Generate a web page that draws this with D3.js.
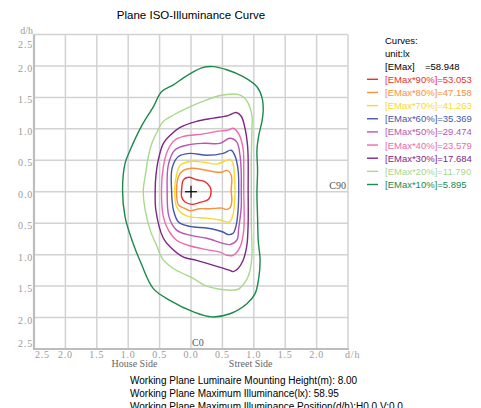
<!DOCTYPE html>
<html>
<head>
<meta charset="utf-8">
<script src="https://cdn.jsdelivr.net/npm/d3@7"></script>
<style>
  body { margin: 0; background: #fff; }
</style>
</head>
<body>
<div id="chart"></div>
<script>
// valori (d/h orizzontale, d/h verticale)
var eMax = 58.948;
var percents = [90, 80, 70, 60, 50, 40, 30, 20, 10];
var levels = [53.053, 47.158, 41.263, 35.369, 29.474, 23.579, 17.684, 11.790, 5.895];
var colors = ["#e8302e", "#f7923a", "#fbd92c", "#4458a8", "#bb55b3", "#ef6aa8", "#7d2787", "#a8d98c", "#1b8a4a"];

var xTicks = [-2.5, -2.0, -1.5, -1.0, -0.5, 0.0, 0.5, 1.0, 1.5, 2.0, 2.5];
var xLabels = ["2.5", "2.0", "1.5", "1.0", "0.5", "0.0", "0.5", "1.0", "1.5", "2.0", "d/h"];
var yTicks = [2.5, 2.0, 1.5, 1.0, 0.5, 0.0, -0.5, -1.0, -1.5, -2.0, -2.5];
var yLabels = ["2.5", "2.0", "1.5", "1.0", "0.5", "0.0", "0.5", "1.0", "1.5", "2.0", "2.5"];

var infoLines = [
    "Working Plane Luminaire Mounting Height(m): 8.00",
    "Working Plane Maximum Illuminance(lx): 58.95",
    "Working Plane Maximum Illuminance Position(d/h):H0.0,V:0.0"
];

// curve isolux, punti [d/h orizzontale, d/h verticale]
var curve90 = [[-0.15,0.03],[-0.12,0.19],[-0.04,0.23],[0.09,0.19],[0.22,0.16],[0.30,0.08],[0.32,0.0],[0.28,-0.12],[0.14,-0.17],[0.01,-0.20],[-0.10,-0.16],[-0.15,-0.08]];
var curve80 = [[-0.23,0.03],[-0.20,0.24],[-0.12,0.34],[-0.02,0.37],[0.09,0.37],[0.30,0.33],[0.49,0.31],[0.57,0.34],[0.63,0.29],[0.65,0.19],[0.64,0.03],[0.65,-0.13],[0.63,-0.24],[0.57,-0.28],[0.49,-0.26],[0.30,-0.27],[0.14,-0.27],[-0.02,-0.30],[-0.11,-0.26],[-0.20,-0.21]];
var curve70 = [[-0.26,0.03],[-0.23,0.27],[-0.18,0.41],[-0.02,0.48],[0.20,0.47],[0.41,0.44],[0.57,0.50],[0.63,0.51],[0.67,0.44],[0.69,0.27],[0.70,0.03],[0.69,-0.21],[0.66,-0.40],[0.61,-0.48],[0.46,-0.45],[0.25,-0.42],[-0.02,-0.40],[-0.15,-0.34],[-0.23,-0.24]];
var curve60 = [[-0.31,0.03],[-0.30,0.38],[-0.20,0.56],[-0.02,0.61],[0.25,0.58],[0.51,0.61],[0.64,0.66],[0.70,0.57],[0.75,0.35],[0.76,0.03],[0.75,-0.29],[0.72,-0.53],[0.67,-0.66],[0.59,-0.68],[0.51,-0.64],[0.27,-0.58],[-0.02,-0.55],[-0.20,-0.48],[-0.28,-0.29]];
var curve50 = [[-0.38,0.03],[-0.36,0.43],[-0.26,0.66],[-0.07,0.74],[0.20,0.77],[0.46,0.77],[0.62,0.85],[0.73,0.79],[0.78,0.58],[0.80,0.30],[0.80,0.03],[0.80,-0.24],[0.76,-0.58],[0.73,-0.77],[0.62,-0.84],[0.51,-0.82],[0.25,-0.74],[-0.02,-0.69],[-0.23,-0.61],[-0.35,-0.40]];
var curve40 = [[-0.47,0.03],[-0.44,0.40],[-0.37,0.66],[-0.26,0.82],[-0.12,0.88],[0.20,0.92],[0.41,0.96],[0.59,0.98],[0.67,1.01],[0.76,0.92],[0.83,0.68],[0.84,0.35],[0.84,0.03],[0.84,-0.61],[0.78,-0.88],[0.67,-1.01],[0.57,-1.01],[0.46,-0.96],[0.25,-0.92],[-0.05,-0.85],[-0.23,-0.77],[-0.36,-0.61],[-0.44,-0.40]];
var curve30 = [[-0.57,0.03],[-0.56,0.24],[-0.52,0.51],[-0.44,0.77],[-0.33,0.90],[-0.18,1.02],[0.09,1.12],[0.36,1.17],[0.59,1.21],[0.72,1.26],[0.80,1.20],[0.86,1.01],[0.90,0.74],[0.91,0.51],[0.91,0.03],[0.91,-0.50],[0.89,-0.85],[0.83,-1.09],[0.75,-1.22],[0.67,-1.27],[0.62,-1.25],[0.36,-1.17],[0.09,-1.09],[-0.12,-1.04],[-0.33,-0.88],[-0.44,-0.74],[-0.56,-0.29]];
var curve20 = [[-0.76,0.03],[-0.73,0.24],[-0.68,0.56],[-0.62,0.78],[-0.55,0.93],[-0.45,1.11],[-0.28,1.22],[-0.02,1.35],[0.25,1.46],[0.46,1.53],[0.73,1.55],[0.83,1.51],[0.91,1.41],[0.97,1.22],[0.97,0.98],[0.96,0.51],[0.96,0.03],[0.96,-0.50],[0.97,-1.04],[0.94,-1.25],[0.89,-1.39],[0.75,-1.55],[0.46,-1.55],[0.22,-1.49],[0.04,-1.38],[-0.28,-1.22],[-0.45,-1.07],[-0.55,-0.85],[-0.65,-0.61],[-0.73,-0.29]];
var curve10 = [[-1.09,0.03],[-1.05,0.45],[-0.97,0.66],[-0.79,1.04],[-0.60,1.35],[-0.47,1.59],[-0.28,1.70],[-0.12,1.81],[0.01,1.89],[0.17,1.97],[0.35,1.99],[0.57,1.94],[0.83,1.83],[1.05,1.67],[1.13,1.50],[1.15,1.30],[1.13,1.12],[1.08,0.90],[1.05,0.66],[1.06,0.35],[1.05,-0.03],[1.06,-0.40],[1.07,-0.77],[1.10,-1.09],[1.08,-1.36],[1.02,-1.62],[0.89,-1.78],[0.62,-1.94],[0.33,-1.99],[0.04,-1.91],[-0.33,-1.73],[-0.60,-1.54],[-0.79,-1.15],[-0.94,-0.77],[-1.05,-0.40]];

var curves = [curve90, curve80, curve70, curve60, curve50, curve40, curve30, curve20, curve10];

var width = 481;
var height = 408;
// margini dell'area del grafico (attenzione: "top" è già di window)
var plotLeft = 34, plotRight = 348, plotTop = 34.5, plotBottom = 349;

var svg = d3.select("#chart")
            .append("svg")
            .attr("width", width)
            .attr("height", height);

var x = d3.scaleLinear().domain([-2.5, 2.5]).range([plotLeft, plotRight]);
var y = d3.scaleLinear().domain([-2.5, 2.5]).range([plotBottom, plotTop]);

var serif = "'Liberation Serif', 'DejaVu Serif', serif";
var sans = "'Liberation Sans', Arial, sans-serif";

// titolo
svg.append("text")
   .attr("x", 191)
   .attr("y", 19)
   .attr("text-anchor", "middle")
   .style("font", "11.5px " + sans)
   .attr("fill", "#000")
   .text("Plane ISO-Illuminance Curve");

// griglia
var grid = svg.append("g")
              .attr("stroke", "#d2d2d2")
              .attr("stroke-width", 1.5);

grid.selectAll("line.v")
    .data(xTicks)
    .enter()
    .append("line")
    .attr("x1", function(d) { return x(d); })
    .attr("x2", function(d) { return x(d); })
    .attr("y1", plotTop)
    .attr("y2", plotBottom);

grid.selectAll("line.h")
    .data(yTicks)
    .enter()
    .append("line")
    .attr("x1", plotLeft)
    .attr("x2", plotRight)
    .attr("y1", function(d) { return y(d); })
    .attr("y2", function(d) { return y(d); });

// assi a sinistra e in basso
svg.append("line")
   .attr("x1", plotLeft).attr("x2", plotLeft)
   .attr("y1", plotTop).attr("y2", plotBottom + 1)
   .attr("stroke", "#bdbdbd")
   .attr("stroke-width", 2.2);

svg.append("line")
   .attr("x1", plotLeft).attr("x2", plotRight + 1)
   .attr("y1", plotBottom).attr("y2", plotBottom)
   .attr("stroke", "#bdbdbd")
   .attr("stroke-width", 2.2);

// etichette asse y
svg.append("g")
   .selectAll("text")
   .data(yTicks)
   .enter()
   .append("text")
   .attr("x", 33)
   .attr("y", function(d) { return Math.min(Math.max(y(d) + 6, plotTop + 13.5), plotBottom - 2); })
   .attr("text-anchor", "end")
   .attr("fill", "#9a9a9a")
   .style("font", "10px " + serif)
   .style("letter-spacing", "0.8px")
   .text(function(d, i) { return yLabels[i]; });

svg.append("text")
   .attr("x", 33)
   .attr("y", 34)
   .attr("text-anchor", "end")
   .attr("fill", "#9a9a9a")
   .style("font", "10px " + serif)
   .text("d/h");

// etichette asse x
svg.append("g")
   .selectAll("text")
   .data(xTicks)
   .enter()
   .append("text")
   .attr("x", function(d, i) {
       if (i == 0) return x(d) + 1;
       if (i == xTicks.length - 1) return x(d) - 3;
       return x(d);
   })
   .attr("y", 357.5)
   .attr("text-anchor", function(d, i) {
       return (i == 0 || i == xTicks.length - 1) ? "start" : "middle";
   })
   .attr("fill", "#9a9a9a")
   .style("font", "10px " + serif)
   .style("letter-spacing", "0.8px")
   .text(function(d, i) { return xLabels[i]; });

svg.append("text")
   .attr("x", x(-0.9))
   .attr("y", 367)
   .attr("text-anchor", "middle")
   .attr("fill", "#666")
   .style("font", "10px " + serif)
   .text("House Side");

svg.append("text")
   .attr("x", x(0.95))
   .attr("y", 367)
   .attr("text-anchor", "middle")
   .attr("fill", "#666")
   .style("font", "10px " + serif)
   .text("Street Side");

svg.append("text")
   .attr("x", x(0) + 1)
   .attr("y", 346)
   .attr("fill", "#555")
   .style("font", "10px " + serif)
   .text("C0");

svg.append("text")
   .attr("x", plotRight - 2)
   .attr("y", 188.5)
   .attr("text-anchor", "end")
   .attr("fill", "#555")
   .style("font", "10px " + serif)
   .text("C90");

// curve isolux
var line = d3.line()
             .x(function(d) { return x(d[0]); })
             .y(function(d) { return y(d[1]); })
             .curve(d3.curveCatmullRomClosed.alpha(0.5));

svg.append("g")
   .attr("fill", "none")
   .attr("stroke-width", 1.4)
   .selectAll("path")
   .data(curves)
   .enter()
   .append("path")
   .attr("stroke", function(d, i) { return colors[i]; })
   .attr("d", line);

// croce del massimo
var cross = svg.append("g")
               .attr("stroke", "#000")
               .attr("stroke-width", 1.2);
cross.append("line")
     .attr("x1", x(0) - 6).attr("x2", x(0) + 6)
     .attr("y1", y(0)).attr("y2", y(0));
cross.append("line")
     .attr("x1", x(0)).attr("x2", x(0))
     .attr("y1", y(0) - 6).attr("y2", y(0) + 6);

// legenda
var legend = svg.append("g")
                .style("font", "9.5px " + sans);

legend.append("text").attr("x", 385).attr("y", 43.5).attr("fill", "#000").text("Curves:");
legend.append("text").attr("x", 385).attr("y", 56.5).attr("fill", "#000").text("unit:lx");
legend.append("text").attr("x", 385).attr("y", 69.5).attr("fill", "#000").text("[EMax]");
legend.append("text").attr("x", 425).attr("y", 69.5).attr("fill", "#000").text("=" + eMax.toFixed(3));

var item = legend.selectAll("g.item")
                 .data(percents)
                 .enter()
                 .append("g")
                 .attr("transform", function(d, i) { return "translate(0," + (79.3 + i * 13.15) + ")"; });

item.append("line")
    .attr("x1", 367)
    .attr("x2", 378)
    .attr("stroke-width", 1.4)
    .attr("stroke", function(d, i) { return colors[i]; });

item.append("text")
    .attr("x", 385)
    .attr("y", 3.5)
    .attr("fill", function(d, i) { return colors[i]; })
    .text(function(d, i) { return "[EMax*" + d + "%]=" + levels[i].toFixed(3); });

// testo in basso
svg.append("g")
   .selectAll("text")
   .data(infoLines)
   .enter()
   .append("text")
   .attr("x", 130)
   .attr("y", function(d, i) { return 383.5 + i * 13; })
   .attr("fill", "#000")
   .style("font", "10px " + sans)
   .text(function(d) { return d; });
</script>
</body>
</html>
